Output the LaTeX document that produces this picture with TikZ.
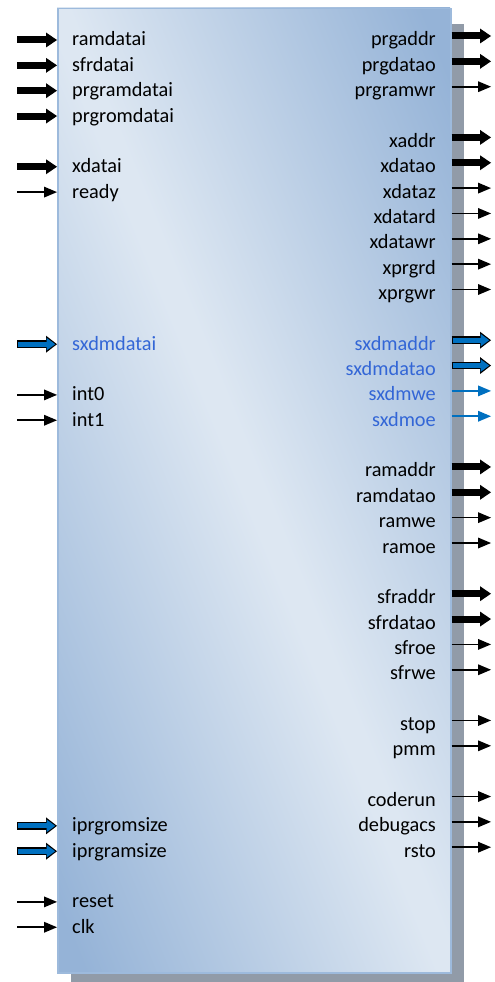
\documentclass[tikz,border=0pt]{standalone}
\usepackage{fontspec}
\setmainfont{Carlito}
\usetikzlibrary{arrows.meta}

\definecolor{panellight}{RGB}{221,231,242}
\definecolor{paneldark}{RGB}{149,179,215}
\definecolor{panelline}{RGB}{157,186,220}
\definecolor{shadowgray}{RGB}{145,155,168}
\definecolor{sigblue}{RGB}{51,102,214}
\definecolor{busblue}{RGB}{0,112,192}

\pgfdeclareverticalshading{panel}{100bp}{color(0bp)=(paneldark); color(17bp)=(paneldark);
  color(49bp)=(panellight); color(51bp)=(panellight); color(83bp)=(paneldark); color(100bp)=(paneldark)}

\tikzset{
  lsig/.style={font=\fontsize{20.3}{24}\selectfont, inner sep=0pt, text height=12pt, text depth=0pt, anchor=west},
  rsig/.style={lsig, text height=20pt, anchor=east},
  wire/.style={line width=1.6pt, -{Triangle[length=13pt,width=11pt,line width=0pt]}},
  bus/.style={line width=7pt, -{Triangle[length=11pt,width=15pt,line width=0pt]}},
  bluewire/.style={wire, busblue},
  bluebus/.style={line width=5pt, busblue, shorten <=1pt, shorten >=1.8pt,
    -{Triangle[length=8.5pt,width=12.5pt,line width=0pt]},
    preaction={draw=black, line width=7.5pt, shorten <=0pt, shorten >=0pt,
      -{Triangle[length=11pt,width=17pt,line width=0pt]}}},
}

\begin{document}
\begin{tikzpicture}[x=1pt, y=-1pt]
    \useasboundingbox (0,0) rectangle (495,982);

    % shadow and body
    \fill[shadowgray] (71,24) rectangle (464,982);
    \begin{scope}[transform canvas={xscale=3.93, yscale=9.64}]
        \shade[shading=panel, shading angle=-45] (14.5038,0.8299) rectangle (114.5038,100.8299);
    \end{scope}
    \node[draw=panelline, line width=1.5pt, minimum width=393pt, minimum height=964pt,
        inner sep=0pt, anchor=north west] (core) at (57,8) {};

    % inputs
    \foreach \name/\row/\col in {ramdatai/0/black, sfrdatai/1/black, prgramdatai/2/black, prgromdatai/3/black,
            xdatai/5/black, ready/6/black, sxdmdatai/12/sigblue, int0/14/black, int1/15/black,
            iprgromsize/31/black, iprgramsize/32/black, reset/34/black, clk/35/black} {
            \node[lsig, text=\col] (\name) at (72, {40+25.35*\row}) {\name};
            \coordinate (\name-in) at (17, {40+25.35*\row});
        }

    % outputs
    \foreach \name/\row/\col in {prgaddr/0/black, prgdatao/1/black, prgramwr/2/black,
            xaddr/4/black, xdatao/5/black, xdataz/6/black, xdatard/7/black, xdatawr/8/black,
            xprgrd/9/black, xprgwr/10/black, sxdmaddr/12/sigblue, sxdmdatao/13/sigblue,
            sxdmwe/14/sigblue, sxdmoe/15/sigblue, ramaddr/17/black, ramdatao/18/black,
            ramwe/19/black, ramoe/20/black, sfraddr/22/black, sfrdatao/23/black,
            sfroe/24/black, sfrwe/25/black, stop/27/black, pmm/28/black,
            coderun/30/black, debugacs/31/black, rsto/32/black} {
            \node[rsig, text=\col] (\name) at (436, {36+25.35*\row}) {\name};
            \coordinate (\name-out) at (491, {36+25.35*\row});
        }

    \foreach \name in {ramdatai, sfrdatai, prgramdatai, prgromdatai, xdatai} {
            \draw[bus] (\name-in) -- (\name-in -| core.west);
        }
    \foreach \name in {ready, int0, int1, reset, clk} {
            \draw[wire] (\name-in) -- (\name-in -| core.west);
        }
    \foreach \name in {sxdmdatai, iprgromsize, iprgramsize} {
            \draw[bluebus] (\name-in) -- (\name-in -| core.west);
        }

    \foreach \name in {prgaddr, prgdatao, xaddr, xdatao, ramaddr, ramdatao, sfraddr, sfrdatao} {
            \draw[bus] (\name-out -| core.east) -- (\name-out);
        }
    \foreach \name in {prgramwr, xdataz, xdatard, xdatawr, xprgrd, xprgwr, ramwe, ramoe,
            sfroe, sfrwe, stop, pmm, coderun, debugacs, rsto} {
            \draw[wire] (\name-out -| core.east) -- (\name-out);
        }
    \foreach \name in {sxdmaddr, sxdmdatao} {
            \draw[bluebus] (\name-out -| core.east) -- (\name-out);
        }
    \foreach \name in {sxdmwe, sxdmoe} {
            \draw[bluewire] (\name-out -| core.east) -- (\name-out);
        }

\end{tikzpicture}
\end{document}
